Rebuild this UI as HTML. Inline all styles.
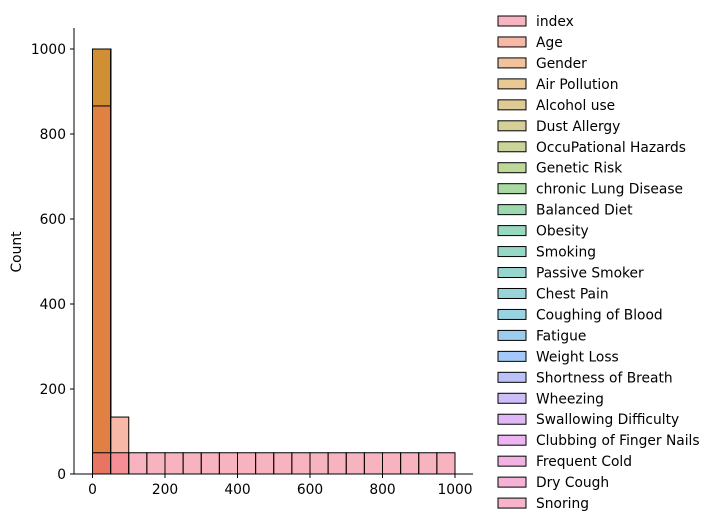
<!DOCTYPE html>
<html><head><meta charset="utf-8"><style>
body{margin:0;background:#fff;}
svg{display:block;font-family:"DejaVu Sans","Liberation Sans",sans-serif;}
</style></head><body>
<svg id="chart" width="712" height="526"></svg>
<script>
const seriesNames=["index","Age","Gender","Air Pollution","Alcohol use","Dust Allergy","OccuPational Hazards","Genetic Risk","chronic Lung Disease","Balanced Diet","Obesity","Smoking","Passive Smoker","Chest Pain","Coughing of Blood","Fatigue","Weight Loss","Shortness of Breath","Wheezing","Swallowing Difficulty","Clubbing of Finger Nails","Frequent Cold","Dry Cough","Snoring"];
const seriesColors=["#ef6781","#f17151","#e38539","#d19129","#bf972d","#ad9f31","#97a935","#7db133","#51b341","#39b361","#31b17f","#2daf91","#2dad9f","#31a9b3","#37a5c5","#3b9bdd","#4991ef","#7785f1","#9f7bf1","#bf71ed","#d969e3","#e567c9","#eb65ad","#ef6795"];
const binEdgeStart=0, binWidth=50, binCount=20;
const indexCounts=[50,50,50,50,50,50,50,50,50,50,50,50,50,50,50,50,50,50,50,50];
const ageCounts=[866,134,0,0,0,0,0,0,0,0,0,0,0,0,0,0,0,0,0,0];
const otherCounts=[1000,0,0,0,0,0,0,0,0,0,0,0,0,0,0,0,0,0,0,0];
const xTicks=[0,200,400,600,800,1000];
const yTicks=[0,200,400,600,800,1000];

const NS="http://www.w3.org/2000/svg";
const svg=document.getElementById("chart");
function mk(t,a,p){const e=document.createElementNS(NS,t);for(const k in a)e.setAttribute(k,a[k]);(p||svg).appendChild(e);return e;}
const X0=74,X1=473,Y0=474,Y1=28;
const FS=13.8;
const xs=v=>92.5+(v-0)*(455-92.5)/1000;
const ys=v=>474-v*(474-49)/1000;

function countsFor(i){return i===0?indexCounts:(i===1?ageCounts:otherCounts);}
const bars=mk("g",{});


for(let i=seriesNames.length-1;i>=0;i--){
  const c=countsFor(i);
  for(let b=0;b<binCount;b++){
    if(!c[b])continue;
    const x0=xs(binEdgeStart+b*binWidth),x1=xs(binEdgeStart+(b+1)*binWidth);
    const r=mk("rect",{x:x0,y:ys(c[b]),width:x1-x0,height:ys(0)-ys(c[b]),fill:seriesColors[i],"fill-opacity":0.5,stroke:"#000","stroke-width":1},bars);
    
    
  }
}
let s=mk("line",{x1:X0,y1:Y1,x2:X0,y2:Y0,stroke:"#000","stroke-width":1});


s=mk("line",{x1:X0,y1:Y0,x2:X1,y2:Y0,stroke:"#000","stroke-width":1});


xTicks.forEach(v=>{
  mk("line",{x1:xs(v),y1:Y0,x2:xs(v),y2:Y0+4,stroke:"#000"});
  const t=mk("text",{x:xs(v),y:Y0+20,"text-anchor":"middle","font-size":FS});
  t.textContent=v;
  
  
});
yTicks.forEach(v=>{
  mk("line",{x1:X0-4,y1:ys(v),x2:X0,y2:ys(v),stroke:"#000"});
  const t=mk("text",{x:X0-8,y:ys(v)+5,"text-anchor":"end","font-size":FS});
  t.textContent=v;
  
  
});
const yl=mk("text",{x:21,y:252,"text-anchor":"middle","font-size":FS,transform:"rotate(-90 21 252)"});
yl.textContent="Count";


const lg=mk("g",{});


seriesNames.forEach((n,i)=>{
  const y=21+i*20.96;
  const g=mk("g",{},lg);
  
  
  mk("rect",{x:498,y:y-5,width:28,height:10,fill:seriesColors[i],"fill-opacity":0.5,stroke:"#000","stroke-width":1},g);
  const t=mk("text",{x:536,y:y+5,"font-size":FS},g);
  t.textContent=n;
});
</script>
</body></html>
